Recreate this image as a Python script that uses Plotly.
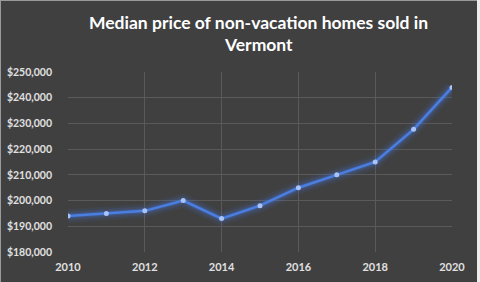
import plotly.graph_objects as go

years = [2010, 2011, 2012, 2013, 2014, 2015, 2016, 2017, 2018, 2019, 2020]
prices = [194000, 195000, 196000, 200000, 193000, 198000, 205000, 210000, 215000, 227700, 244000]
title_lines = ["Median price of non-vacation homes sold in", "Vermont"]
x_ticks = [2010, 2012, 2014, 2016, 2018, 2020]
y_ticks = [180000, 190000, 200000, 210000, 220000, 230000, 240000, 250000]

fig = go.Figure()
# glow layers
for w, a in [(14, 0.08), (9, 0.14), (5, 0.26)]:
    fig.add_trace(go.Scatter(x=years, y=prices, mode="lines",
                             line=dict(color=f"rgba(70,120,230,{a})", width=w),
                             hoverinfo="skip", showlegend=False))
fig.add_trace(go.Scatter(x=years, y=prices, mode="lines+markers",
                         line=dict(color="#4a7ee0", width=2.5),
                         marker=dict(color="#a9c2f7", size=5),
                         showlegend=False))

L, R, T, B = 68, 452, 72, 252
def px(p):
    return (p - L) / (R - L)
def py(p):
    return (B - p) / (B - T)

annotations = []
for i, line in enumerate(title_lines):
    annotations.append(dict(text=line, xref="paper", yref="paper", x=px(258), y=py(22 + 22 * i),
                            xanchor="center", yanchor="middle", showarrow=False,
                            font=dict(family="Lato", size=17.5, color="#ffffff", weight="bold")))

fig.update_layout(
    width=480, height=282,
    margin=dict(l=L, r=480 - R, t=T, b=282 - B),
    paper_bgcolor="#404040", plot_bgcolor="#404040",
    annotations=annotations,
    xaxis=dict(range=[2010, 2020], tickvals=x_ticks, ticktext=[str(t) for t in x_ticks],
               showgrid=True, gridcolor="#5a5a5a", gridwidth=1, zeroline=False,
               showline=False, ticks="", ticklabelstandoff=7, automargin=False,
               tickfont=dict(family="Lato", size=11, color="#e0e0e0", weight="bold")),
    yaxis=dict(range=[180000, 250000], tickvals=y_ticks,
               ticktext=["${:,}".format(v) for v in y_ticks],
               showgrid=True, gridcolor="#5a5a5a", gridwidth=1, zeroline=False,
               showline=False, ticks="", ticklabelstandoff=15, automargin=False,
               tickfont=dict(family="Lato", size=10.5, color="#e0e0e0", weight="bold")),
    shapes=[
        dict(type="rect", xref="paper", yref="paper", x0=px(477), x1=px(481), y0=-1, y1=2,
             fillcolor="#ececec", line=dict(width=0), layer="above"),
        dict(type="line", xref="paper", yref="paper", x0=px(0.5), x1=px(0.5), y0=-1, y1=2,
             line=dict(color="#9a9a9a", width=1)),
        dict(type="line", xref="paper", yref="paper", x0=px(0), x1=px(477),
             y0=py(0.5), y1=py(0.5),
             line=dict(color="#9a9a9a", width=1)),
    ],
)
fig.write_html("out.html")
